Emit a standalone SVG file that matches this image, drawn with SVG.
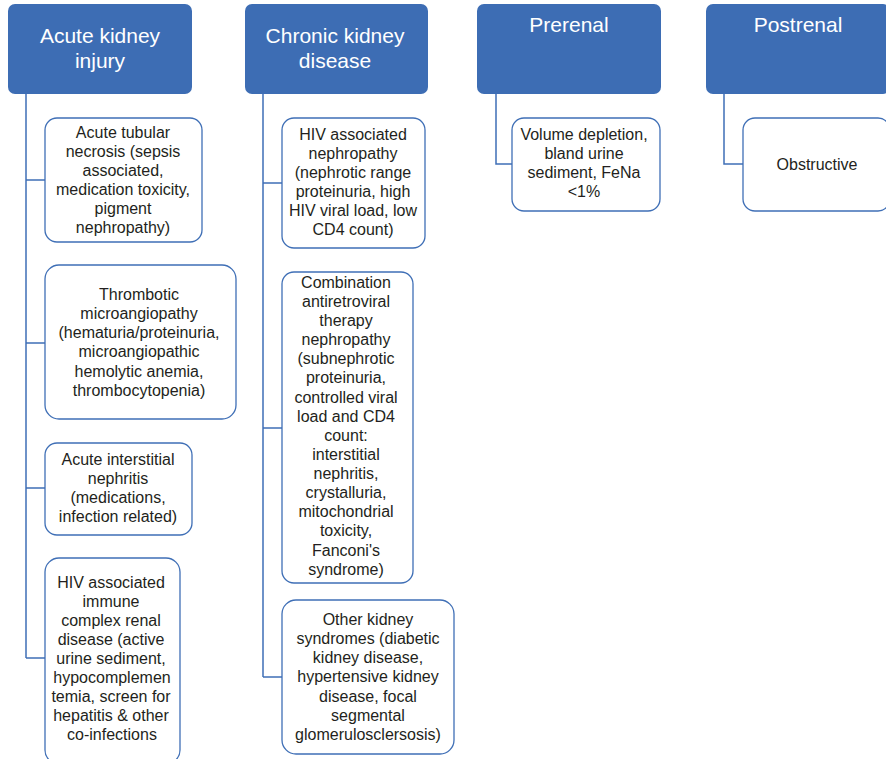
<svg xmlns="http://www.w3.org/2000/svg" width="886" height="759" viewBox="0 0 886 759">
<style>
.hdr{fill:#3D6DB4;stroke:none}
.hdr-t{font-family:"Liberation Sans",Arial,sans-serif;font-size:21px;fill:#ffffff;text-anchor:middle}
.box{fill:#ffffff;stroke:#3F6FB6;stroke-width:1.3}
.box-t{font-family:"Liberation Sans",Arial,sans-serif;font-size:16px;fill:#231F20;text-anchor:middle}
.conn{fill:none;stroke:#3F6FB6;stroke-width:1.5}
</style>
<rect width="886" height="759" fill="#ffffff"/>
<g id="connectors">
<path class="conn" d="M26,94 V658 M26,180 H45 M26,343 H45 M26,488 H45 M26,658 H45"/>
<path class="conn" d="M263,94 V677 M263,183 H282 M263,428 H282 M263,677 H282"/>
<path class="conn" d="M496,94 V164 H512"/>
<path class="conn" d="M724,94 V164 H743"/>
</g>
<g id="aki">
<rect class="hdr" x="8" y="4" width="184" height="90" rx="7"/>
<text class="hdr-t" x="100" y="43">Acute kidney</text>
<text class="hdr-t" x="100" y="68">injury</text>
</g>
<g id="ckd">
<rect class="hdr" x="245" y="4" width="183" height="90" rx="7"/>
<text class="hdr-t" x="335" y="43">Chronic kidney</text>
<text class="hdr-t" x="335" y="68">disease</text>
</g>
<g id="prerenal">
<rect class="hdr" x="477" y="4" width="184" height="90" rx="7"/>
<text class="hdr-t" x="569" y="32">Prerenal</text>
</g>
<g id="postrenal">
<rect class="hdr" x="706" y="4" width="184" height="90" rx="7"/>
<text class="hdr-t" x="798" y="32">Postrenal</text>
</g>
<g id="atn">
<rect class="box" x="45" y="118" width="157" height="124" rx="12"/>
<text class="box-t" x="123"><tspan x="123" y="138">Acute tubular</tspan><tspan x="123" y="157">necrosis (sepsis</tspan><tspan x="123" y="176">associated,</tspan><tspan x="123" y="195">medication toxicity,</tspan><tspan x="123" y="214">pigment</tspan><tspan x="123" y="233">nephropathy)</tspan></text>
</g>
<g id="tma">
<rect class="box" x="45" y="265" width="191" height="154" rx="14"/>
<text class="box-t" x="139"><tspan x="139" y="300">Thrombotic</tspan><tspan x="139" y="319">microangiopathy</tspan><tspan x="139" y="338">(hematuria/proteinuria,</tspan><tspan x="139" y="357">microangiopathic</tspan><tspan x="139" y="377">hemolytic anemia,</tspan><tspan x="139" y="396">thrombocytopenia)</tspan></text>
</g>
<g id="ain">
<rect class="box" x="45" y="443" width="147" height="92" rx="12"/>
<text class="box-t" x="118"><tspan x="118" y="465">Acute interstitial</tspan><tspan x="118" y="484">nephritis</tspan><tspan x="118" y="503">(medications,</tspan><tspan x="118" y="522">infection related)</tspan></text>
</g>
<g id="hivic">
<rect class="box" x="45" y="558" width="135" height="206" rx="14"/>
<text class="box-t" x="111"><tspan x="111" y="588">HIV associated</tspan><tspan x="111" y="607">immune</tspan><tspan x="111" y="626">complex renal</tspan><tspan x="111" y="645">disease (active</tspan><tspan x="111" y="664">urine sediment,</tspan><tspan x="112" y="683">hypocomplemen</tspan><tspan x="111" y="702">temia, screen for</tspan><tspan x="111" y="721">hepatitis &amp; other</tspan><tspan x="112" y="740">co-infections</tspan></text>
</g>
<g id="hivan">
<rect class="box" x="282" y="118" width="143" height="130" rx="12"/>
<text class="box-t" x="353"><tspan x="353" y="140">HIV associated</tspan><tspan x="353" y="159">nephropathy</tspan><tspan x="353" y="178">(nephrotic range</tspan><tspan x="353" y="197">proteinuria, high</tspan><tspan x="353" y="216">HIV viral load, low</tspan><tspan x="353" y="235">CD4 count)</tspan></text>
</g>
<g id="cart">
<rect class="box" x="282" y="272" width="131" height="311" rx="12"/>
<text class="box-t" x="346"><tspan x="346" y="288">Combination</tspan><tspan x="346" y="307">antiretroviral</tspan><tspan x="346" y="326">therapy</tspan><tspan x="346" y="345">nephropathy</tspan><tspan x="346" y="364">(subnephrotic</tspan><tspan x="346" y="383">proteinuria,</tspan><tspan x="346" y="403">controlled viral</tspan><tspan x="346" y="422">load and CD4</tspan><tspan x="346" y="441">count:</tspan><tspan x="346" y="460">interstitial</tspan><tspan x="346" y="479">nephritis,</tspan><tspan x="346" y="498">crystalluria,</tspan><tspan x="346" y="517">mitochondrial</tspan><tspan x="346" y="536">toxicity,</tspan><tspan x="346" y="556">Fanconi's</tspan><tspan x="346" y="575">syndrome)</tspan></text>
</g>
<g id="other">
<rect class="box" x="282" y="600" width="172" height="154" rx="14"/>
<text class="box-t" x="368"><tspan x="368" y="625">Other kidney</tspan><tspan x="368" y="644">syndromes (diabetic</tspan><tspan x="368" y="663">kidney disease,</tspan><tspan x="368" y="682">hypertensive kidney</tspan><tspan x="368" y="702">disease, focal</tspan><tspan x="368" y="721">segmental</tspan><tspan x="368" y="740">glomerulosclersosis)</tspan></text>
</g>
<g id="volume">
<rect class="box" x="512" y="118" width="148" height="93" rx="12"/>
<text class="box-t" x="584"><tspan x="584" y="140">Volume depletion,</tspan><tspan x="584" y="159">bland urine</tspan><tspan x="584" y="178">sediment, FeNa</tspan><tspan x="584" y="197">&lt;1%</tspan></text>
</g>
<g id="obstructive">
<rect class="box" x="743" y="118" width="147" height="93" rx="12"/>
<text class="box-t" x="817" y="170">Obstructive</text>
</g>
</svg>
